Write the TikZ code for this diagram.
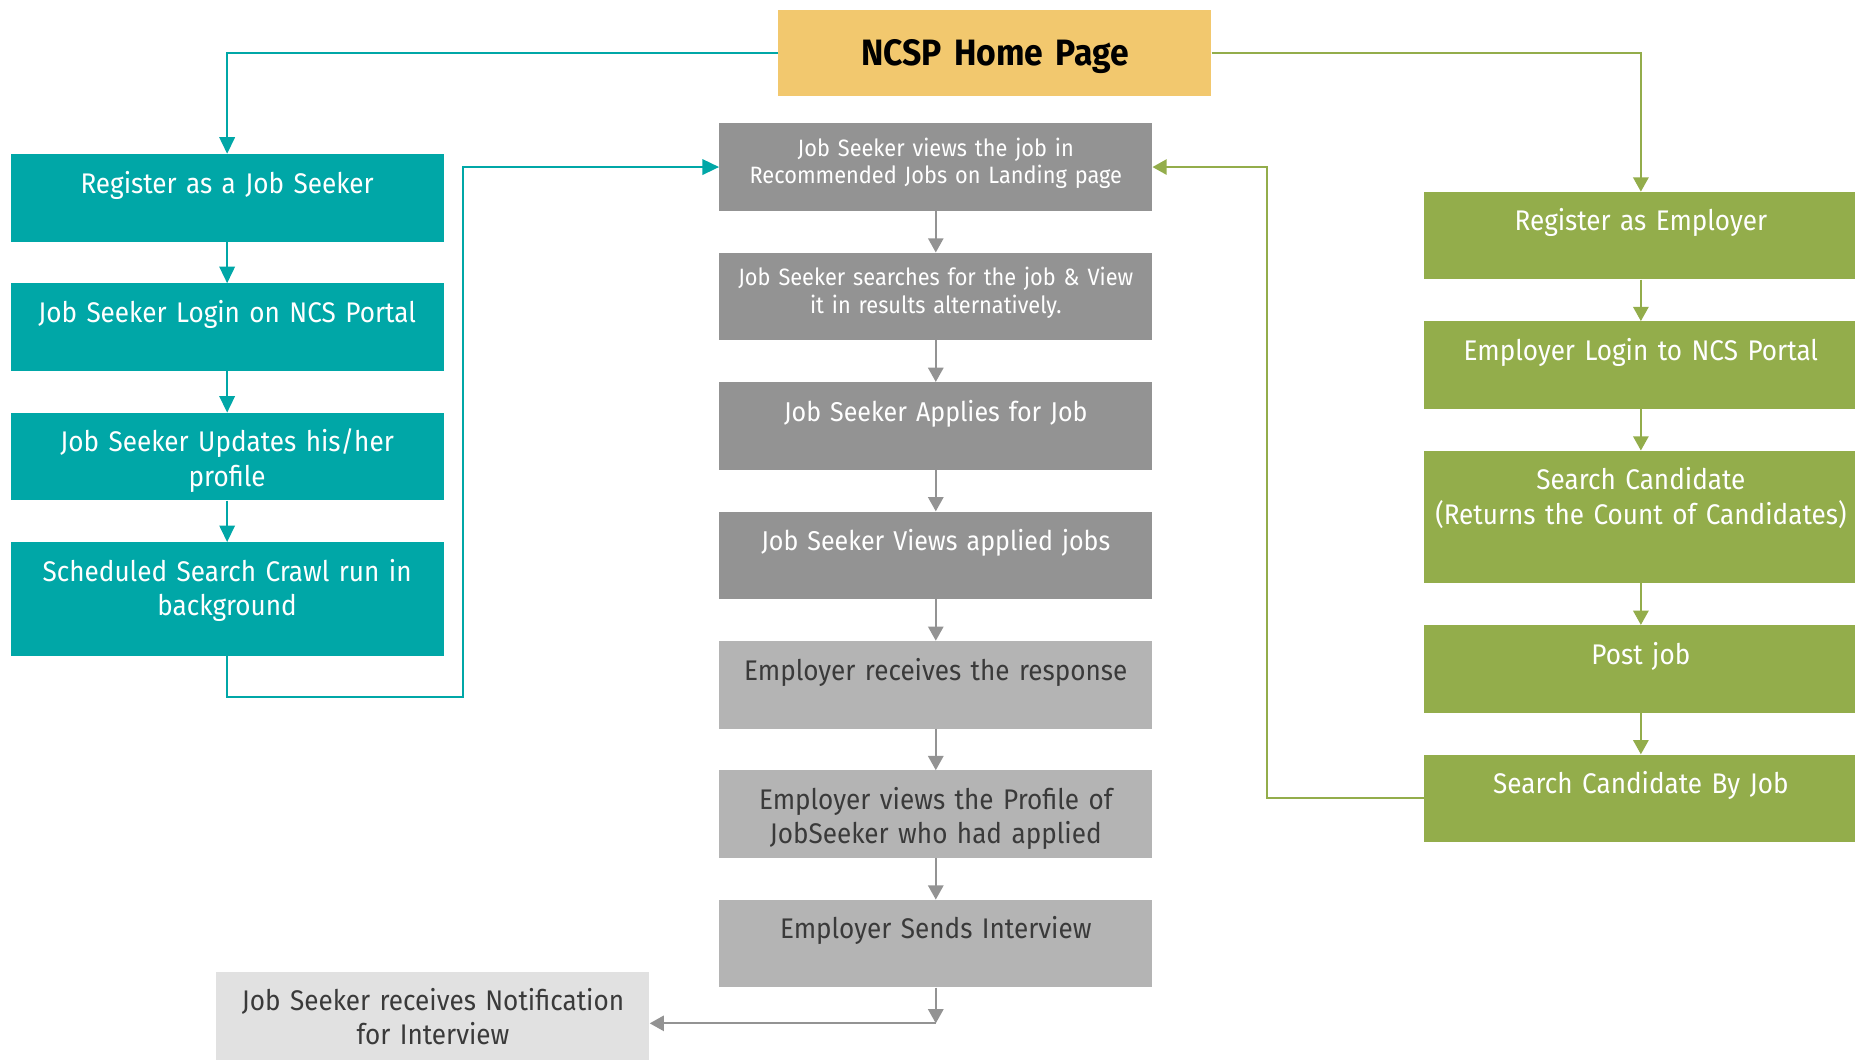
\documentclass[tikz,border=0pt]{standalone}
\usepackage{fontspec}
\setmainfont{Fira Sans}[FakeStretch=0.92, WordSpace=0.72]
\usetikzlibrary{positioning,arrows.meta}
\definecolor{seekerteal}{HTML}{00A7A7}
\definecolor{employergreen}{HTML}{93AD4B}
\definecolor{homeyellow}{HTML}{F2C86E}
\definecolor{flowgray}{HTML}{939393}
\definecolor{responsegray}{HTML}{B4B4B4}
\definecolor{noticegray}{HTML}{E1E1E1}
\definecolor{darktext}{HTML}{3A3A3A}

\begin{document}
\begin{tikzpicture}[x=1pt, y=-1pt, node distance=35pt,
    box/.style={rectangle, inner xsep=8pt, inner ysep=0pt, text width=350pt, align=center,
      text height=33pt, text depth=41pt, font=\fontsize{24}{29}\selectfont},
    homepage/.style={box, fill=homeyellow, text height=47pt, text depth=26pt,
      font=\bfseries\fontsize{31}{35}\selectfont},
    seeker/.style={box, fill=seekerteal, text=white},
    employer/.style={box, fill=employergreen, text=white},
    flow/.style={box, fill=flowgray, text=white, font=\fontsize{23}{28}\selectfont},
    small/.style={text height=28pt, text depth=46pt, font=\fontsize{20}{23}\selectfont},
    response/.style={box, fill=responsegray, text=darktext, text height=33pt},
    notice/.style={box, fill=noticegray, text=darktext, text depth=42pt},
    tealarrow/.style={draw=seekerteal, line width=1.8pt, -{Triangle[length=14pt, width=13pt]}},
    greenarrow/.style={draw=employergreen, line width=1.5pt, -{Triangle[length=12pt, width=13pt]}},
    grayarrow/.style={draw=flowgray, line width=1.5pt, -{Triangle[length=12pt, width=13pt]}}]

  \useasboundingbox (0,0) rectangle (1568,896);

  \node[homepage, anchor=north] (home) at (841,8) {NCSP Home Page};

  % job seeker side
  \node[seeker, anchor=north] (jsreg) at (192,130) {Register as a Job Seeker};
  \node[seeker, below=of jsreg] (jslogin) {Job Seeker Login on NCS Portal};
  \node[seeker, below=of jslogin] (jsprofile) {Job Seeker Updates his/her\\profile};
  \node[seeker, below=of jsprofile, text depth=63pt] (crawl) {Scheduled Search Crawl run in\\background};

  % main flow
  \node[flow, small, anchor=north] (recjobs) at (791,104) {Job Seeker views the job in\\Recommended Jobs on Landing page};
  \node[flow, small, below=of recjobs] (search) {Job Seeker searches for the job \& View\\it in results alternatively.};
  \node[flow, below=of search] (apply) {Job Seeker Applies for Job};
  \node[flow, below=of apply] (applied) {Job Seeker Views applied jobs};
  \node[response, below=of applied] (receive) {Employer receives the response};
  \node[response, below=of receive] (profile) {Employer views the Profile of\\JobSeeker who had applied};
  \node[response, below=of profile] (interview) {Employer Sends Interview};
  \node[notice, anchor=north] (notify) at (366,821) {Job Seeker receives Notification\\for Interview};

  % employer side
  \node[employer, anchor=north] (empreg) at (1387,162) {Register as Employer};
  \node[employer, below=of empreg] (emplogin) {Employer Login to NCS Portal};
  \node[employer, below=of emplogin, text depth=79pt] (count) {Search Candidate\\(Returns the Count of Candidates)};
  \node[employer, below=of count] (post) {Post job};
  \node[employer, below=of post] (byjob) {Search Candidate By Job};

  \coordinate (backL) at (391,589);
  \coordinate (backR) at (1071,0);
  \coordinate (turn) at (interview.south |- 0,865);

  \draw[tealarrow] (home.west) -| (jsreg.north);
  \foreach \a/\b in {jsreg/jslogin, jslogin/jsprofile, jsprofile/crawl}
    \draw[tealarrow] (\a) -- (\b);
  \draw[tealarrow] (crawl.south) |- (backL) |- (recjobs.west);

  \foreach \a/\b in {recjobs/search, search/apply, apply/applied, applied/receive, receive/profile, profile/interview}
    \draw[grayarrow] (\a) -- (\b);
  \draw[grayarrow] (interview.south) -- (turn);
  \draw[grayarrow] (turn) -- (notify.east |- turn);

  \draw[greenarrow] (home.east) -| (empreg.north);
  \foreach \a/\b in {empreg/emplogin, emplogin/count, count/post, post/byjob}
    \draw[greenarrow] (\a) -- (\b);
  \draw[greenarrow] (byjob.west) -| (backR |- recjobs.east) -- (recjobs.east);

\end{tikzpicture}
\end{document}
